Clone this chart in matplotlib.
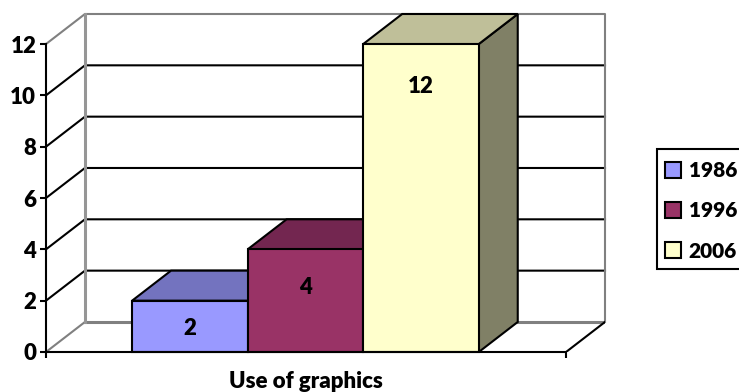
import matplotlib
matplotlib.use('Agg')
import matplotlib.pyplot as plt
from matplotlib.patches import Polygon, Patch, Rectangle

plt.rcParams['font.family'] = ['Lato', 'DejaVu Sans']
plt.rcParams['font.weight'] = 'heavy'

# Chart values
category = 'Use of graphics'
years = ['1986', '1996', '2006']
values = [2, 4, 12]
y_ticks = [0, 2, 4, 6, 8, 10, 12]

# Fill colours for front, top and side of each bar
front_colors = ['#9999FF', '#993366', '#FFFFCC']
top_colors = ['#7373BF', '#732650', '#BFBF99']
side_colors = ['#4D4D80', '#4D1A33', '#808066']

# Fake 3D layout, in data units
x_end = 4.5
gap = 0.745
depth_x = 0.337
depth_y = 1.17
label_drop = [1.1, 1.47, 1.64]

LW = 1.5
GRAY = '#808080'

fig = plt.figure(figsize=(7.39, 3.92), dpi=100)
ax = fig.add_axes([46 / 739, 1 - 352 / 392, 559 / 739, 338 / 392])
ax.set_xlim(0, x_end + depth_x)
ax.set_ylim(0, 12 + depth_y)
ax.patch.set_visible(False)

for s in ['top', 'right']:
    ax.spines[s].set_visible(False)
ax.spines['left'].set_bounds(0, 12)
ax.spines['bottom'].set_bounds(0, x_end)
ax.spines['left'].set_linewidth(LW)
ax.spines['bottom'].set_linewidth(LW)
ax.spines['left'].set_zorder(6)
ax.spines['bottom'].set_zorder(6)

ax.set_yticks(y_ticks)
ax.set_xticks([0, x_end])
ax.set_xticklabels([])
ax.tick_params(axis='y', length=4, width=LW, labelsize=16, pad=3)
ax.tick_params(axis='x', length=4, width=LW)

ax.set_xlabel(category, fontsize=16, fontweight='heavy', va='center')
ax.xaxis.set_label_coords(2.25 / (x_end + depth_x), -0.086)

# Walls: gridlines on the back, slanted lines on the side
for v in y_ticks[1:-1]:
    ax.plot([0, depth_x, x_end + depth_x], [v, v + depth_y, v + depth_y],
            color='black', lw=LW, clip_on=False, zorder=1)
ax.plot([0, depth_x, x_end + depth_x, x_end + depth_x],
        [12, 12 + depth_y, 12 + depth_y, depth_y],
        color=GRAY, lw=LW, clip_on=False, zorder=1)
ax.plot([depth_x, depth_x], [depth_y, 12 + depth_y], color='#969696', lw=2.2, zorder=2, clip_on=False)
ax.plot([0, depth_x], [0, depth_y], color=GRAY, lw=LW, zorder=1)
ax.plot([depth_x, x_end + depth_x], [depth_y, depth_y], color=GRAY, lw=2.2, zorder=1)
ax.plot([x_end, x_end + depth_x], [0, depth_y], color='black', lw=LW, zorder=1)

# Bars are drawn left to right so each one hides the side of the previous
for i, v in enumerate(values):
    x0 = gap + i
    x1 = x0 + 1
    z = 3 + i * 0.1
    ax.add_patch(Polygon([(x1, 0), (x1 + depth_x, depth_y), (x1 + depth_x, v + depth_y), (x1, v)],
                         facecolor=side_colors[i], edgecolor='black', lw=LW, zorder=z, clip_on=False))
    ax.add_patch(Polygon([(x0, v), (x0 + depth_x, v + depth_y), (x1 + depth_x, v + depth_y), (x1, v)],
                         facecolor=top_colors[i], edgecolor='black', lw=LW, zorder=z, clip_on=False))
    ax.bar(x0, v, width=1, align='edge', color=front_colors[i], edgecolor='black',
           lw=LW, zorder=z + 0.01, clip_on=False)
    ax.text(x0 + 0.5, v - label_drop[i], str(v), ha='center', va='center',
            fontsize=16, fontweight='heavy', zorder=7)

# Legend box runs past the right edge, so it is drawn apart from the entries
fig.add_artist(Rectangle((657 / 739, 1 - 269 / 392), 100 / 739, 120 / 392, transform=fig.transFigure,
                         facecolor='white', edgecolor='black', lw=LW))
handles = [Patch(facecolor=c, edgecolor='black', lw=LW) for c in front_colors]
leg = fig.legend(handles, years, loc='upper left', bbox_to_anchor=(665 / 739, 1 - 161 / 392),
                 fontsize=15, frameon=False,
                 handlelength=0.78, handleheight=0.78, handletextpad=0.36, labelspacing=1.02,
                 borderpad=0, borderaxespad=0)

fig.savefig('out.png', dpi=100)
